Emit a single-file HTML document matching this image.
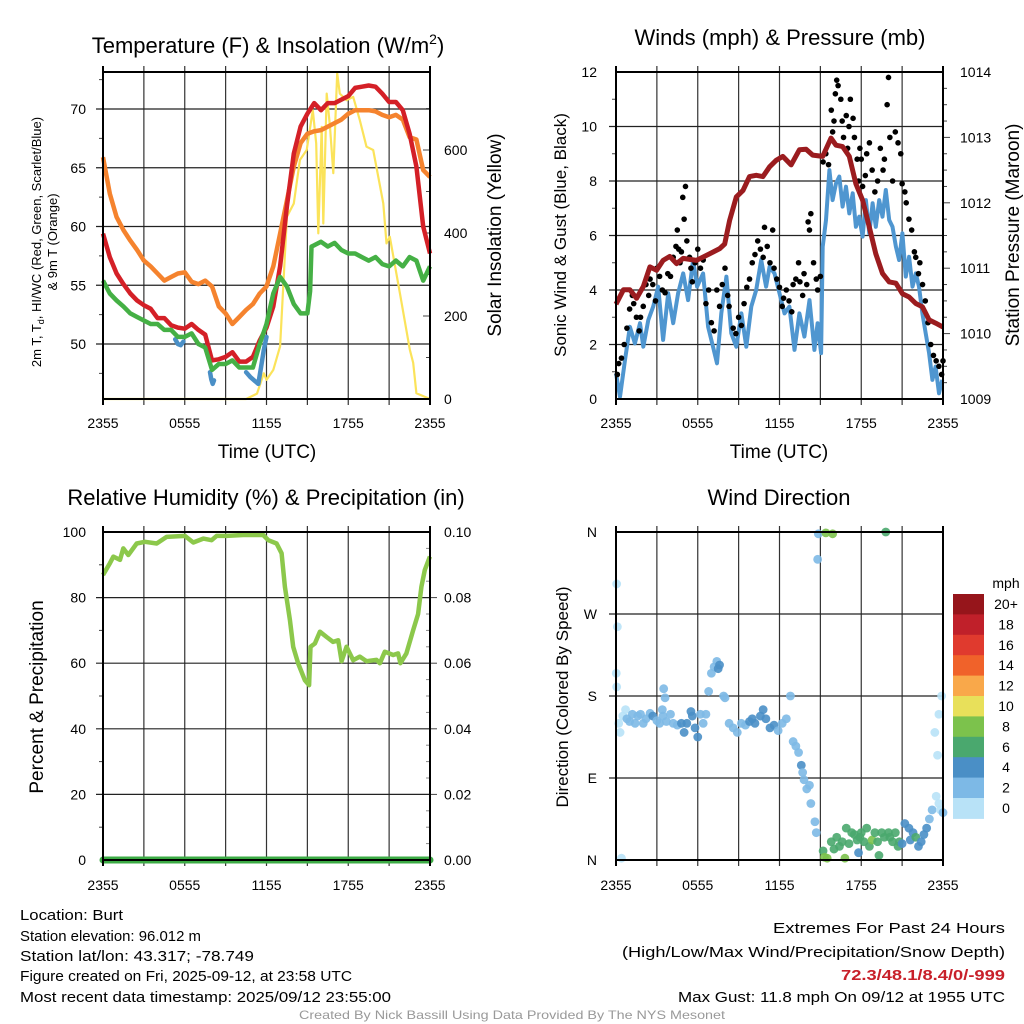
<!DOCTYPE html>
<html><head><meta charset="utf-8">
<style>
html,body{margin:0;padding:0;background:#fff;}
svg{display:block;font-family:"Liberation Sans",Arial,sans-serif;}
</style></head>
<body>
<svg id="chart" width="1024" height="1024" viewBox="0 0 1024 1024" xmlns="http://www.w3.org/2000/svg">
<rect width="1024" height="1024" fill="#fff"/>
<g id="layer"></g>
<text x="268" y="53" font-size="22" text-anchor="middle">Temperature (F) &amp; Insolation (W/m<tspan font-size="14" dy="-9">2</tspan><tspan dy="9">)</tspan></text>
<text x="780" y="45" font-size="22" text-anchor="middle">Winds (mph) &amp; Pressure (mb)</text>
<text x="266" y="505" font-size="22" text-anchor="middle">Relative Humidity (%) &amp; Precipitation (in)</text>
<text x="779" y="505" font-size="22" text-anchor="middle">Wind Direction</text>

<text font-size="13" text-anchor="middle" transform="translate(41,242) rotate(-90)">2m T, T<tspan font-size="9" dy="3">d</tspan><tspan dy="-3">, HI/WC (Red, Green, Scarlet/Blue)</tspan></text>
<text font-size="13" text-anchor="middle" transform="translate(57,242) rotate(-90)">&amp; 9m T (Orange)</text>
<text font-size="19" text-anchor="middle" transform="translate(501,235) rotate(-90)">Solar Insolation (Yellow)</text>
<text font-size="17" text-anchor="middle" transform="translate(566,235) rotate(-90)">Sonic Wind &amp; Gust (Blue, Black)</text>
<text font-size="19" text-anchor="middle" transform="translate(1019,235) rotate(-90)">Station Pressure (Maroon)</text>
<text font-size="19" text-anchor="middle" transform="translate(43,697) rotate(-90)">Percent &amp; Precipitation</text>
<text font-size="17" text-anchor="middle" transform="translate(568,697) rotate(-90)">Direction (Colored By Speed)</text>

<text x="267" y="458" font-size="19" text-anchor="middle">Time (UTC)</text>
<text x="779" y="458" font-size="19" text-anchor="middle">Time (UTC)</text>

<g font-size="15">
<text x="20" y="920" textLength="103" lengthAdjust="spacingAndGlyphs">Location: Burt</text>
<text x="20" y="941" textLength="181" lengthAdjust="spacingAndGlyphs">Station elevation: 96.012 m</text>
<text x="20" y="961" textLength="234" lengthAdjust="spacingAndGlyphs">Station lat/lon: 43.317; -78.749</text>
<text x="20" y="981" textLength="332" lengthAdjust="spacingAndGlyphs">Figure created on Fri, 2025-09-12, at 23:58 UTC</text>
<text x="20" y="1002" textLength="371" lengthAdjust="spacingAndGlyphs">Most recent data timestamp: 2025/09/12 23:55:00</text>
</g>
<g font-size="15" text-anchor="end">
<text x="1005" y="933" textLength="232" lengthAdjust="spacingAndGlyphs">Extremes For Past 24 Hours</text>
<text x="1005" y="957" textLength="383" lengthAdjust="spacingAndGlyphs">(High/Low/Max Wind/Precipitation/Snow Depth)</text>
<text x="1005" y="980" font-weight="bold" fill="#c8202a" textLength="164" lengthAdjust="spacingAndGlyphs">72.3/48.1/8.4/0/-999</text>
<text x="1005" y="1002" textLength="327" lengthAdjust="spacingAndGlyphs">Max Gust: 11.8 mph On 09/12 at 1955 UTC</text>
</g>
<text x="512" y="1019" font-size="12" fill="#999" text-anchor="middle" textLength="426" lengthAdjust="spacingAndGlyphs">Created By Nick Bassill Using Data Provided By The NYS Mesonet</text>
</svg>
<script>
// ---------- shared ----------
const timeTickLabels = ["2355","0555","1155","1755","2355"];
// ---------- temperature panel ----------
const tempHours = [0,0.5,1,1.5,2,2.5,3,3.5,4,4.5,5,5.5,6,6.5,7,7.5,8,8.5,9,9.5,10,10.5,11,11.5,12,12.5,13,13.5,14,14.5,15,15.5,16,16.5,17,17.5,18,18.5,19,19.5,20,20.5,21,21.5,22,22.5,23,23.5,24];
const temp2m = [59.4,57.4,56.0,55.1,54.3,53.7,53.3,53.0,52.2,52.2,51.6,51.4,51.3,51.7,51.2,50.8,48.6,48.7,48.9,49.3,48.5,48.5,48.9,50.3,51.4,53.2,56.6,61.7,66.2,68.5,69.6,70.5,69.9,70.5,70.5,70.8,71.1,71.8,71.9,72.0,71.9,71.3,70.6,70.6,69.9,67.9,65.1,60.0,57.7];
const temp9m = [65.9,62.8,60.8,59.7,58.8,58.0,57.1,56.6,56.0,55.4,55.7,56.0,56.1,55.3,55.1,55.4,54.9,53.2,52.6,51.7,52.3,52.9,53.4,54.3,54.9,56.6,59.4,62.2,65.1,67.1,67.9,68.1,68.2,68.5,68.8,69.1,69.6,69.9,69.9,69.9,69.8,69.5,69.3,69.5,69.1,67.6,67.4,64.8,64.2];
const dewHours = [0,0.5,1,1.5,2,2.5,3,3.5,4,4.5,5,5.5,6,6.5,7,7.5,8,8.5,9,9.5,10,10.5,11,11.5,12,12.5,13,13.5,14,14.5,15,15.2,15.3,15.5,16,16.5,17,17.5,18,18.5,19,19.5,20,20.5,21,21.5,22,22.5,23,23.5,24];
const dewPoint = [55.4,54.3,53.7,53.2,52.6,52.3,52.0,51.7,51.7,51.2,51.2,50.6,50.6,50.9,50.0,49.7,47.8,48.3,48.3,48.6,48.0,48.0,48.0,50.0,51.7,54.3,55.7,54.9,53.4,52.6,52.6,54.5,58.3,58.4,58.7,58.3,58.6,58.0,57.7,57.7,57.4,57.1,57.4,56.8,56.6,57.1,56.6,57.4,57.1,55.4,56.6];
const windChillHours = [5.3,5.5,5.7,5.9, null, 7.85,7.95,8.05,8.15, null, 10.5,10.8,11.1,11.4,11.6,11.8,12.0];
const windChill = [50.4,50.0,49.9,50.2, null, 47.6,47.0,46.6,46.9, null, 47.6,47.2,46.9,46.6,48.0,49.5,50.6];
const solarHours = [0,10.5,11.3,11.8,12.0,12.5,13.0,13.5,14.0,14.45,14.95,15.4,15.65,15.8,16.05,16.17,16.42,16.66,16.9,17.19,17.38,17.87,18.36,18.85,19.34,19.83,20.57,20.81,21.05,21.79,22.52,22.77,23.0,24.0];
const solarVals = [0,0,13,62,46,70,127,439,471,576,600,696,616,399,656,423,736,656,544,785,736,720,728,672,608,600,471,375,391,255,119,87,14,0];
// ---------- wind panel ----------
const windHours = [0,0.29,0.66,1.02,1.39,1.76,2.0,2.37,2.73,3.10,3.46,3.83,4.20,4.56,4.93,5.29,5.66,5.95,6.39,6.76,7.12,7.41,7.73,8.10,8.46,8.83,9.20,9.56,9.93,10.29,10.66,11.02,11.27,11.63,12.0,12.37,12.73,13.10,13.46,13.83,14.20,14.56,14.80,15.05,15.17,15.41,15.66,15.90,16.15,16.39,16.63,16.88,17.12,17.37,17.61,17.85,18.10,18.34,18.59,18.83,19.07,19.32,19.56,19.80,20.05,20.29,20.54,20.78,21.02,21.27,21.51,21.76,22.0,22.24,22.49,22.73,22.98,23.22,23.46,23.71,23.95];
const windSpeed = [0.94,0.08,1.43,2.65,2.04,2.78,1.92,2.90,3.39,4.12,2.17,3.88,2.78,3.88,4.61,3.63,5.10,4.12,4.61,2.65,1.92,1.31,3.14,4.49,2.41,1.92,3.14,1.92,3.39,4.00,5.10,4.12,4.86,4.61,3.88,3.14,3.39,1.80,3.14,2.29,3.63,1.80,2.78,1.68,5.59,6.57,8.40,7.30,7.91,8.16,7.06,7.79,6.81,7.55,6.32,6.69,5.96,7.30,6.08,7.18,6.32,7.30,6.69,7.67,6.57,6.32,5.59,5.10,6.08,4.49,5.22,4.12,4.61,4.12,3.14,2.41,1.68,0.70,1.19,0.21,0.70];
const gustHours = [0.1,0.2,0.4,0.6,0.8,1.0,1.2,1.3,1.5,1.7,1.8,2.0,2.2,2.4,2.5,2.7,2.9,3.0,3.2,3.4,3.6,3.8,4.0,4.2,4.4,4.5,4.6,4.7,4.8,4.9,5.0,5.1,5.2,5.4,5.5,5.6,5.8,6.0,6.2,6.4,6.6,6.8,7.0,7.2,7.4,7.6,7.8,8.0,8.2,8.3,8.6,8.8,9.0,9.2,9.4,9.6,9.8,10.0,10.2,10.4,10.6,10.8,10.9,11.1,11.3,11.5,11.6,11.8,12.0,12.2,12.3,12.5,12.7,12.9,13.0,13.2,13.4,13.5,13.7,13.8,14.0,14.1,14.2,14.3,14.5,14.7,14.8,15.0,15.2,15.4,15.6,15.8,15.9,16.0,16.1,16.2,16.3,16.5,16.6,16.7,16.9,17.0,17.1,17.2,17.4,17.5,17.7,17.8,17.9,18.0,18.1,18.3,18.4,18.6,18.8,19.0,19.2,19.4,19.6,19.7,19.9,20.0,20.1,20.3,20.5,20.7,20.9,21.0,21.2,21.3,21.5,21.7,21.9,22.0,22.2,22.3,22.5,22.7,22.9,23.1,23.3,23.5,23.7,23.9,24.0];
const gustSpeed = [0.9,1.3,1.5,2.0,2.6,3.3,3.8,3.5,3.0,2.5,3.0,3.4,4.2,3.8,4.4,4.2,3.6,4.8,4.5,4.0,3.9,4.6,4.5,5.2,5.6,6.2,5.5,5.0,5.4,7.4,6.6,7.8,5.8,5.2,4.8,4.3,5.0,5.5,4.8,5.1,3.5,4.0,2.8,2.5,4.0,3.4,4.2,4.8,3.8,3.4,2.6,2.4,3.0,2.7,3.5,4.1,4.4,5.0,5.3,5.8,5.5,5.2,6.3,5.6,5.0,6.2,4.8,4.4,4.1,3.4,3.7,4.0,3.6,3.2,4.2,4.4,5.0,4.3,3.8,4.6,4.2,6.5,6.2,6.8,5.0,4.4,4.0,4.5,8.7,9.0,8.6,10.6,9.8,10.2,11.2,11.7,11.5,11.0,10.2,9.6,10.4,9.2,10.0,11.0,10.3,9.6,8.8,8.0,9.2,8.8,7.8,8.2,9.0,9.4,8.4,7.6,8.0,9.2,8.4,8.8,10.8,11.8,9.6,8.0,9.8,9.4,9.0,7.9,7.6,7.2,6.6,6.2,5.4,5.2,4.6,5.0,4.2,3.6,2.8,2.0,1.6,1.4,1.2,0.9,1.4];
const pressHours = [0,0.54,1.02,1.51,2.0,2.49,2.98,3.46,3.95,4.44,4.93,5.90,6.88,7.61,7.98,8.34,8.83,9.32,9.80,10.29,10.78,11.27,11.76,12.24,12.85,13.46,13.95,14.44,15.17,15.78,16.15,16.63,17.12,17.61,18.10,18.59,19.07,19.56,20.05,20.54,21.02,21.51,22.0,22.49,22.98,23.46,24.0];
const pressure = [1010.45,1010.67,1010.67,1010.54,1010.72,1011.02,1010.97,1011.12,1011.18,1011.07,1011.15,1011.12,1011.22,1011.30,1011.37,1011.73,1012.09,1012.19,1012.40,1012.42,1012.40,1012.55,1012.65,1012.71,1012.58,1012.81,1012.82,1012.73,1012.71,1012.99,1012.88,1012.86,1012.71,1012.29,1012.04,1011.63,1011.22,1010.92,1010.79,1010.77,1010.61,1010.56,1010.46,1010.41,1010.21,1010.16,1010.10];
// ---------- humidity panel ----------
const rhHours = [0,0.51,0.76,1.25,1.49,1.86,2.47,3.08,3.94,4.67,6.01,6.63,7.36,7.97,8.34,9.07,10.29,11.76,12.13,12.74,13.11,13.35,13.72,13.96,14.33,14.82,15.13,15.23,15.55,15.92,16.41,16.89,17.26,17.51,17.87,18.36,18.85,19.34,20.07,20.32,20.68,21.30,21.66,21.83,22.27,22.76,23.13,23.37,23.62,23.99];
const rhVals = [86.9,90.5,92.5,91.5,95,93,96.5,97,96.5,98.5,98.8,96.8,98,97.5,98.8,98.8,99.1,99.1,97.5,96.5,93.5,83.3,73.2,65,59.9,54.8,53.3,65,66,69.6,68,66.5,67,60.6,65,60.9,62,60.6,61,60,63.5,62.5,63,60,63,70,75,83.3,88.4,92.5];
const precipHours = [0,24];
const precipVals = [0,0];
// ---------- wind direction panel ----------
const dirHours = [0.02,0.05,0.05,0.1,0.4,0.2,0.3,0.5,0.7,0.8,1.0,1.2,1.4,1.6,1.8,2.0,2.2,2.5,2.7,3.0,3.2,3.4,3.5,3.6,3.45,3.7,4.0,4.2,4.5,4.8,5.0,5.2,5.5,5.6,5.8,6.0,6.2,6.4,6.6,6.8,7.0,7.2,7.4,7.5,7.6,7.9,8.0,8.3,8.6,8.9,9.2,9.5,9.8,10.0,10.2,10.6,10.8,11.0,11.3,11.6,11.9,12.2,12.5,12.8,13.0,13.2,13.4,13.6,13.7,13.8,14.0,14.2,14.3,14.6,14.7,14.8,14.85,15.2,15.3,15.5,15.4,15.9,15.8,16.0,16.2,16.4,16.6,16.8,16.9,17.1,17.3,17.5,17.7,17.8,17.9,18.0,18.2,18.4,18.6,18.8,19.0,19.2,19.3,19.5,19.7,19.8,20.0,20.1,20.3,20.5,20.7,20.8,21.0,21.2,21.5,21.6,21.8,22.0,22.2,22.4,22.6,22.8,23.0,23.2,23.5,23.7,23.8,24.0,23.4,23.6,23.7,23.9];
const dirDeg = [205,190,303,256,2,150,140,158,165,155,152,160,150,158,160,150,155,161,158,153,150,165,188,178,158,152,160,150,148,150,140,150,163,158,145,135,160,150,160,185,205,212,218,210,214,180,178,150,145,140,150,148,152,155,150,158,165,155,145,148,142,150,155,180,130,125,118,104,96,88,78,82,62,42,30,330,358,10,3,2,359,358,20,12,25,15,20,2,35,18,30,28,22,8,25,30,20,35,15,22,30,20,5,30,25,360,30,25,20,30,15,20,18,40,35,22,30,25,15,20,28,35,45,55,70,62,55,52,140,115,160,180];
const dirSpeed = [1,1,0,1,0,0,0,1,1,2,2,2,2,2,2,2,2,3,4,3,2,2,2,2,2,3,3,2,3,4,4,4,4,4,4,4,2,2,2,2,2,2,2,4,4,2,2,2,2,2,2,2,4,4,4,4,4,4,4,4,2,2,2,2,2,2,2,4,2,2,2,2,2,2,2,2,2,6,8,8,8,8,6,6,6,6,6,8,6,6,6,6,6,4,6,6,6,6,6,8,6,6,6,6,6,6,6,6,6,6,6,6,4,4,4,4,4,6,4,4,4,4,2,2,1,0,0,2,0,0,0,1];
const speedBinLabels = ["0","2","4","6","8","10","12","14","16","18","20+"];
const speedBinColors = ["#b8e2f7","#7db9e6","#4a8fc6","#4aa86e","#7cc24c","#e8e05a","#f9a84a","#f0622a","#e03a2e","#c0202a","#96151b"];

// ---------- drawing ----------
const NS = "http://www.w3.org/2000/svg";
const layer = document.getElementById("layer");
function mk(tag, attrs, parent){
  const e = document.createElementNS(NS, tag);
  for (const k in attrs) e.setAttribute(k, attrs[k]);
  (parent || layer).appendChild(e);
  return e;
}
function lin(d0,d1,r0,r1){ return v => r0 + (v-d0)*(r1-r0)/(d1-d0); }
function pathFrom(xs, ys, sx, sy){
  let d = "", pen = false;
  for (let i=0;i<xs.length;i++){
    if (xs[i]===null || ys[i]===null){ pen=false; continue; }
    d += (pen?"L":"M") + sx(xs[i]).toFixed(1) + "," + sy(ys[i]).toFixed(1);
    pen = true;
  }
  return d;
}
function frame(name, L, T, R, B, nVGrid, hGridVals, sy){
  const g = mk("g", {});
  
  
  const sx = lin(0,24,L,R);
  for (let h=3; h<24; h+=3){
    mk("line",{x1:sx(h),x2:sx(h),y1:T-6,y2:B+6,stroke:"#333","stroke-width":1.2},g);
  }
  hGridVals.forEach(v=>{
    mk("line",{x1:L-7,x2:R,y1:sy(v),y2:sy(v),stroke:"#222","stroke-width":1.2},g);
  });
  return g;
}
function border(name,L,T,R,B){
  const r = mk("rect",{x:L,y:T,width:R-L,height:B-T,fill:"none",stroke:"#000","stroke-width":2});
  
  
  mk("line",{x1:L,x2:L,y1:T-6,y2:B+6,stroke:"#000","stroke-width":2});
  mk("line",{x1:R,x2:R,y1:T-6,y2:B+6,stroke:"#000","stroke-width":2});
}
function xLabels(name,L,R,y){
  const sx = lin(0,24,L,R);
  timeTickLabels.forEach((t,i)=>{
    const e = mk("text",{x:sx(i*6),y:y,"font-size":14,"text-anchor":"middle"});
    
    
    e.textContent = t;
  });
}
function yLabels(name, vals, labels, x, anchor, sy){
  vals.forEach((v,i)=>{
    const e = mk("text",{x:x,y:sy(v)+5,"font-size":14,"text-anchor":anchor});
    
    
    e.textContent = labels[i];
  });
}
function minorTicks(vals, sy, x, len){
  vals.forEach(v=> mk("line",{x1:x,x2:x+len,y1:sy(v),y2:sy(v),stroke:"#444","stroke-width":1}));
}

// Panel 1: temperature
(function(){
  const L=103,R=430,T=72,B=399;
  const sx = lin(0,24,L,R), sy = lin(50,70,344,109), ss = lin(0,600,399,150);
  frame("temperature",L,T,R,B,8,[50,55,60,65,70],sy);
  minorTicks([47.5,52.5,57.5,62.5,67.5,72.5], sy, L-4, 4);
  minorTicks([100,300,500,700], ss, R, -4);
  [0,200,400,600].forEach(v=>mk("line",{x1:R,x2:R-7,y1:ss(v),y2:ss(v),stroke:"#444","stroke-width":1}));
  const sol = mk("path",{d:pathFrom(solarHours,solarVals,sx,ss),fill:"none",stroke:"#fbe35a","stroke-width":2.2,"stroke-linejoin":"round"});
  
  
  const o = mk("path",{d:pathFrom(tempHours,temp9m,sx,sy),fill:"none",stroke:"#f5832e","stroke-width":4.5,"stroke-linejoin":"round"});
  
  
  const r = mk("path",{d:pathFrom(tempHours,temp2m,sx,sy),fill:"none",stroke:"#d42027","stroke-width":4.5,"stroke-linejoin":"round"});
  
  
  const wc = mk("path",{d:pathFrom(windChillHours,windChill,sx,sy),fill:"none",stroke:"#4a8fc6","stroke-width":4.5,"stroke-linejoin":"round","stroke-linecap":"round"});
  
  
  const g = mk("path",{d:pathFrom(dewHours,dewPoint,sx,sy),fill:"none",stroke:"#45b045","stroke-width":4.5,"stroke-linejoin":"round"});
  
  
  border("temperature",L,T,R,B);
  yLabels("temperature-y", [50,55,60,65,70], ["50","55","60","65","70"], 86, "end", sy);
  yLabels("solar-y", [0,200,400,600], ["0","200","400","600"], 444, "start", ss);
  xLabels("temperature",L,R,428);
})();

// Panel 2: winds
(function(){
  const L=616,R=943,T=72,B=399;
  const sx = lin(0,24,L,R), sy = lin(0,12,399,72), sp = lin(1009,1014,399,72);
  frame("winds",L,T,R,B,8,[2,4,6,8,10],sy);
  minorTicks([1,3,5,7,9,11], sy, L-4, 4);
  [1009.25,1009.5,1009.75,1010.25,1010.5,1010.75,1011.25,1011.5,1011.75,1012.25,1012.5,1012.75,1013.25,1013.5,1013.75].forEach(v=>mk("line",{x1:R,x2:R+4,y1:sp(v),y2:sp(v),stroke:"#444","stroke-width":1}));
  [1010,1011,1012,1013].forEach(v=>mk("line",{x1:R,x2:R+7,y1:sp(v),y2:sp(v),stroke:"#444","stroke-width":1}));
  const w = mk("path",{d:pathFrom(windHours,windSpeed,sx,sy),fill:"none",stroke:"#4f96d0","stroke-width":4,"stroke-linejoin":"round"});
  
  
  gustHours.forEach((h,i)=>{
    if (gustSpeed[i]===undefined) return;
    const c = mk("circle",{cx:sx(h),cy:sy(gustSpeed[i]),r:2.8,fill:"#000"});
    
    
  });
  const p = mk("path",{d:pathFrom(pressHours,pressure,sx,sp),fill:"none",stroke:"#9b1c1f","stroke-width":5,"stroke-linejoin":"round"});
  
  
  border("winds",L,T,R,B);
  yLabels("wind-y", [0,2,4,6,8,10,12], ["0","2","4","6","8","10","12"], 597, "end", sy);
  yLabels("pressure-y", [1009,1010,1011,1012,1013,1014], ["1009","1010","1011","1012","1013","1014"], 960, "start", sp);
  xLabels("winds",L,R,428);
})();

// Panel 3: humidity
(function(){
  const L=103,R=430,T=532,B=860;
  const sx = lin(0,24,L,R), sy = lin(0,100,860,532), sq = lin(0,0.1,860,532);
  frame("humidity",L,T,R,B,8,[20,40,60,80],sy);
  minorTicks([10,30,50,70,90], sy, L-4, 4);
  [0.02,0.04,0.06,0.08].forEach(v=>mk("line",{x1:R,x2:R+7,y1:sq(v),y2:sq(v),stroke:"#444","stroke-width":1}));
  [0.005,0.01,0.015,0.025,0.03,0.035,0.045,0.05,0.055,0.065,0.07,0.075,0.085,0.09,0.095].forEach(v=>mk("line",{x1:R,x2:R-4,y1:sq(v),y2:sq(v),stroke:"#888","stroke-width":1}));
  const rh = mk("path",{d:pathFrom(rhHours,rhVals,sx,sy),fill:"none",stroke:"#8cc84b","stroke-width":4.5,"stroke-linejoin":"round"});
  
  
  const pr = mk("path",{d:pathFrom(precipHours,precipVals,sx,sq),fill:"none",stroke:"#3cab45","stroke-width":7,"stroke-linecap":"round"});
  
  
  border("humidity",L,T,R,B);
  mk("line",{x1:L,x2:R,y1:B,y2:B,stroke:"#000","stroke-width":1.5});
  yLabels("humidity-y", [0,20,40,60,80,100], ["0","20","40","60","80","100"], 86, "end", sy);
  yLabels("precip-y", [0,0.02,0.04,0.06,0.08,0.1], ["0.00","0.02","0.04","0.06","0.08","0.10"], 444, "start", sq);
  xLabels("humidity",L,R,890);
})();

// Panel 4: wind direction
(function(){
  const L=616,R=943,T=532,B=860;
  const sx = lin(0,24,L,R), sy = lin(0,360,860,532);
  frame("direction",L,T,R,B,8,[90,180,270],sy);
  const n = Math.min(dirHours.length, dirDeg.length);
  for (let i=0;i<n;i++){
    const s = dirSpeed[i]===undefined ? 2 : dirSpeed[i];
    const bin = Math.max(0, Math.min(10, Math.floor(s/2)));
    const c = mk("circle",{cx:sx(dirHours[i]),cy:sy(dirDeg[i]),r:4.4,fill:speedBinColors[bin],"fill-opacity":0.9});
    
    
  }
  border("direction",L,T,R,B);
  yLabels("direction-y", [0,90,180,270,360], ["N","E","S","W","N"], 597, "end", sy);
  xLabels("direction",L,R,890);
  const cbTop=594, cbH=20.4, cbX=953, cbW=31;
  const t = mk("text",{x:1006,y:588,"font-size":14,"text-anchor":"middle"});
  
  
  t.textContent = "mph";
  for (let i=0;i<speedBinColors.length;i++){
    const k = speedBinColors.length-1-i;
    const r = mk("rect",{x:cbX,y:cbTop+i*cbH,width:cbW,height:cbH+0.5,fill:speedBinColors[k]});
    
    
    const lt = mk("text",{x:1006,y:cbTop+i*cbH+15,"font-size":14,"text-anchor":"middle"});
    
    
    lt.textContent = speedBinLabels[k];
  }
})();
</script>
</body></html>
